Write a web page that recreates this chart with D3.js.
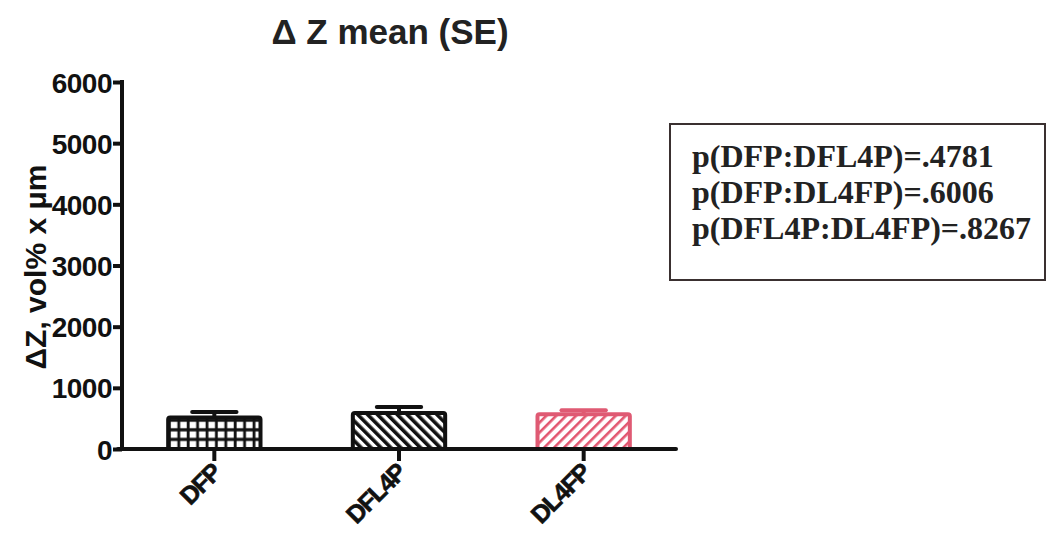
<!DOCTYPE html>
<html>
<head>
<meta charset="utf-8">
<script src="https://cdn.jsdelivr.net/npm/d3@7"></script>
<style>
  html, body { margin: 0; padding: 0; background: #fff; }
  svg { display: block; }
</style>
</head>
<body>
<svg id="chart" width="1051" height="544"></svg>
<script>
// Groups and their summary statistics (mean and standard error of ΔZ)
const groups = ["DFP", "DFL4P", "DL4FP"];
const means = [515, 590, 570];
const errors = [90, 95, 65];
const yTicks = [0, 1000, 2000, 3000, 4000, 5000, 6000];
const pValues = [
  "p(DFP:DFL4P)=.4781",
  "p(DFP:DL4FP)=.6006",
  "p(DFL4P:DL4FP)=.8267"
];
const barStroke = ["#111", "#111", "#df5a73"];
const barPattern = ["grid", "back", "fwd"];

const svg = d3.select("#chart");

const x = d3.scaleBand().domain(groups).range([122, 676]).paddingInner(0.5).paddingOuter(0.25);
const y = d3.scaleLinear().domain([0, 6000]).range([449, 82]);

// Fill patterns
const defs = svg.append("defs");
const grid = defs.append("pattern").attr("id", "grid").attr("patternUnits", "userSpaceOnUse")
  .attr("width", 9.4).attr("height", 9.6).attr("x", 0).attr("y", 449);
grid.append("rect").attr("width", 9.4).attr("height", 9.6).attr("fill", "#111");
grid.append("rect").attr("x", 1.6).attr("y", 1.6).attr("width", 6.6).attr("height", 6.4).attr("fill", "#fff");

// "\\" stripes
const back = defs.append("pattern").attr("id", "back").attr("patternUnits", "userSpaceOnUse")
  .attr("width", 7).attr("height", 7).attr("patternTransform", "rotate(-45)");
back.append("rect").attr("width", 7).attr("height", 7).attr("fill", "#fff");
back.append("rect").attr("x", 0).attr("width", 3.6).attr("height", 7).attr("fill", "#111");

// "//" stripes
const fwd = defs.append("pattern").attr("id", "fwd").attr("patternUnits", "userSpaceOnUse")
  .attr("width", 7).attr("height", 7).attr("patternTransform", "rotate(45)");
fwd.append("rect").attr("width", 7).attr("height", 7).attr("fill", "#fff");
fwd.append("rect").attr("x", 0).attr("width", 2.6).attr("height", 7).attr("fill", "#e2566f");

// Title
svg.append("text")
  .attr("x", 390).attr("y", 44)
  .attr("text-anchor", "middle")
  .attr("font-family", "Liberation Sans, Arial, sans-serif")
  .attr("font-weight", "bold").attr("font-size", 35)
  .attr("fill", "#222")
  .text("Δ Z mean (SE)");

// Y axis
const yAxis = d3.axisLeft(y).tickValues(yTicks).tickSize(9).tickPadding(1).tickFormat(d3.format("d"));
const gy = svg.append("g").attr("transform", "translate(122,0)").call(yAxis);
gy.select(".domain").remove();
gy.selectAll(".tick line").attr("stroke", "#111").attr("stroke-width", 4);
gy.selectAll(".tick text")
  .attr("font-family", "Liberation Sans, Arial, sans-serif")
  .attr("font-weight", "bold").attr("font-size", 28).attr("fill", "#111")
  .attr("letter-spacing", -0.5)
  .attr("dy", "0.36em");
svg.append("line").attr("x1", 122).attr("x2", 122).attr("y1", y(6000) - 2).attr("y2", y(0) + 2)
  .attr("stroke", "#111").attr("stroke-width", 4);

// Y axis label
svg.append("text")
  .attr("transform", "translate(46,267) rotate(-90)")
  .attr("text-anchor", "middle")
  .attr("font-family", "Liberation Sans, Arial, sans-serif")
  .attr("font-weight", "bold").attr("font-size", 30).attr("fill", "#111")
  .text("ΔZ, vol% x μm");

// Bars
const bw = x.bandwidth();
groups.forEach((g, i) => {
  const x0 = x(g);
  const cx = x0 + bw / 2;
  // error cap above bar
  svg.append("line")
    .attr("x1", cx).attr("x2", cx).attr("y1", y(means[i])).attr("y2", y(means[i] + errors[i]))
    .attr("stroke", barStroke[i]).attr("stroke-width", 4);
  svg.append("line")
    .attr("x1", cx - bw * 0.24).attr("x2", cx + bw * 0.24)
    .attr("y1", y(means[i] + errors[i])).attr("y2", y(means[i] + errors[i]))
    .attr("stroke", barStroke[i]).attr("stroke-width", 4).attr("stroke-linecap", "round");
  svg.append("rect")
    .attr("x", x0).attr("y", y(means[i]))
    .attr("width", bw).attr("height", y(0) - y(means[i]))
    .attr("rx", 2)
    .attr("fill", "url(#" + barPattern[i] + ")")
    .attr("stroke", barStroke[i]).attr("stroke-width", 4);
});

// X axis
const xAxis = d3.axisBottom(x).tickSize(12).tickFormat("");
const gx = svg.append("g").attr("transform", "translate(0,449)").call(xAxis);
gx.select(".domain").remove();
gx.selectAll(".tick line").attr("stroke", "#111").attr("stroke-width", 4);
svg.append("line").attr("x1", 118).attr("x2", 676).attr("y1", 449).attr("y2", 449)
  .attr("stroke", "#111").attr("stroke-width", 4).attr("stroke-linecap", "round");

// Category labels
svg.selectAll(".cat").data(groups).enter().append("text")
  .attr("class", "cat")
  .attr("transform", d => `translate(${x(d) + bw / 2 + 2},${468}) rotate(-45)`)
  .attr("text-anchor", "end")
  .attr("font-family", "Liberation Sans, Arial, sans-serif")
  .attr("font-weight", "bold").attr("font-size", 25).attr("fill", "#111")
  .attr("letter-spacing", -1.5)
  .attr("stroke", "#111").attr("stroke-width", 0.6)
  .attr("dy", "0.35em")
  .text(d => d);

// p-value box
svg.append("rect").attr("x", 670).attr("y", 124).attr("width", 375).attr("height", 156)
  .attr("fill", "#fff").attr("stroke", "#3a3030").attr("stroke-width", 2);
svg.selectAll(".pv").data(pValues).enter().append("text")
  .attr("class", "pv")
  .attr("x", 692).attr("y", (d, i) => 167 + i * 36)
  .attr("font-family", "Liberation Serif, 'Times New Roman', serif")
  .attr("font-weight", "bold").attr("font-size", 32).attr("fill", "#222")
  .text(d => d);
</script>
</body>
</html>
